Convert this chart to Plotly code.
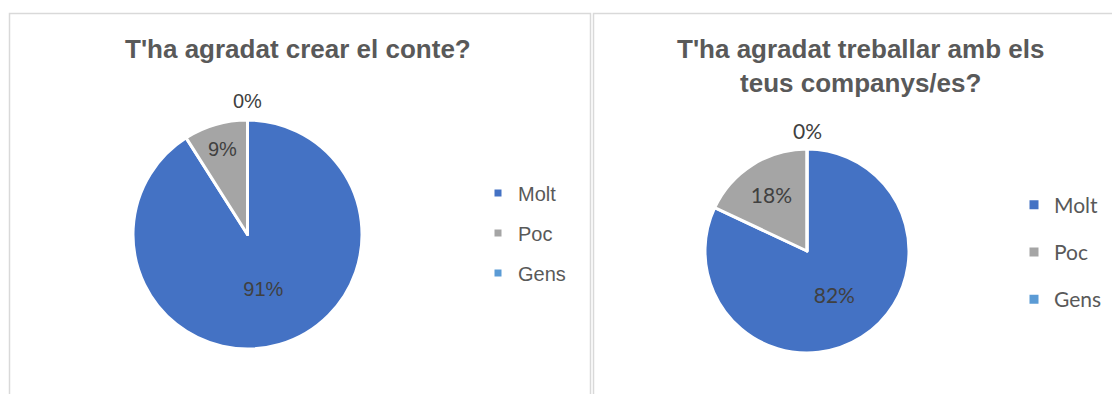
import math
import plotly.graph_objects as go

W, H = 1112, 394

categories = ["Molt", "Poc", "Gens"]
values_conte = [91, 9, 0]
values_companys = [82, 18, 0]
colors = ["#4472C4", "#A5A5A5", "#5B9BD5"]

title_conte = "T'ha agradat crear el conte?"
title_companys = "T'ha agradat treballar amb els<br>teus companys/es?"

ARIAL = "Arial, Liberation Sans, sans-serif"
CALIBRI = "Lato, Carlito, Calibri, sans-serif"


def px_x(p):
    return p / W


def px_y(p):
    return 1 - p / H


# pie boxes (pixel) : left, right, top, bottom
box_conte = (133, 362, 120, 349)
box_companys = (705, 909, 149, 353)

fig = go.Figure()
annotations = []


def add_pie(values, box, font):
    total = sum(values)
    texts = [f"{round(100 * v / total)}%" if v > 0 else "" for v in values]
    l, r, t, b = box
    fig.add_trace(go.Pie(
        labels=categories, values=values, sort=False, direction="clockwise", rotation=0,
        marker=dict(colors=colors, line=dict(color="white", width=3)),
        text=texts, textinfo="text", textposition="inside",
        insidetextorientation="horizontal",
        textfont=font,
        domain=dict(x=[px_x(l), px_x(r)], y=[px_y(b), px_y(t)]),
        showlegend=False, hoverinfo="label+percent",
    ))
    # zero-valued slices: label just outside the rim at the slice's angle
    cx, cy, rad = (l + r) / 2, (t + b) / 2, (r - l) / 2
    cum = 0
    for v in values:
        if v == 0:
            ang = math.radians(360 * cum / total)
            x = cx + (rad + 19) * math.sin(ang)
            y = cy - (rad + 19) * math.cos(ang)
            annotations.append(dict(
                text=f"{round(100 * v / total)}%", x=px_x(x), y=px_y(y),
                xref="paper", yref="paper", xanchor="center", yanchor="middle",
                showarrow=False, font=font))
        cum += v


add_pie(values_conte, box_conte, dict(family=ARIAL, size=20, color="#404040"))
add_pie(values_companys, box_companys, dict(family=CALIBRI, size=21, color="#404040"))

# legend entries (one group per category so the item spacing can be set)
for cat, col in zip(categories, colors):
    fig.add_trace(go.Scatter(
        x=[None], y=[None], mode="markers", name=cat, legendgroup="a_" + cat,
        marker=dict(symbol="square", size=7, color=col), legend="legend",
    ))
for cat, col in zip(categories, colors):
    fig.add_trace(go.Scatter(
        x=[None], y=[None], mode="markers", name=cat, legendgroup="b_" + cat,
        marker=dict(symbol="square", size=9, color=col), legend="legend2",
    ))

annotations += [
    dict(text="<b>" + title_conte + "</b>", x=px_x(297.5), y=px_y(49),
         xref="paper", yref="paper", xanchor="center", yanchor="middle",
         showarrow=False, font=dict(family=ARIAL, size=26, color="#595959")),
    dict(text="<b>" + title_companys + "</b>", x=px_x(860), y=px_y(66),
         xref="paper", yref="paper", xanchor="center", yanchor="middle",
         showarrow=False, font=dict(family=ARIAL, size=26, color="#595959")),
]

fig.update_layout(
    width=W, height=H,
    margin=dict(l=0, r=0, t=0, b=0),
    paper_bgcolor="white", plot_bgcolor="white",
    xaxis=dict(visible=False), yaxis=dict(visible=False),
    legend=dict(
        x=px_x(478), y=px_y(233), xanchor="left", yanchor="middle",
        font=dict(family=ARIAL, size=20, color="#595959"),
        tracegroupgap=11, bgcolor="rgba(0,0,0,0)", borderwidth=0,
        itemclick=False, itemdoubleclick=False,
    ),
    legend2=dict(
        x=px_x(1014), y=px_y(252), xanchor="left", yanchor="middle",
        font=dict(family=CALIBRI, size=21, color="#595959"),
        tracegroupgap=17, bgcolor="rgba(0,0,0,0)", borderwidth=0,
        itemclick=False, itemdoubleclick=False,
    ),
    annotations=annotations,
    shapes=[
        dict(type="rect", xref="paper", yref="paper",
             x0=px_x(9.5), x1=px_x(590.5), y0=px_y(13.5), y1=px_y(420),
             line=dict(color="#D9D9D9", width=1.5), fillcolor="rgba(0,0,0,0)", layer="below"),
        dict(type="rect", xref="paper", yref="paper",
             x0=px_x(593.5), x1=px_x(1140), y0=px_y(13.5), y1=px_y(420),
             line=dict(color="#D9D9D9", width=1.5), fillcolor="rgba(0,0,0,0)", layer="below"),
    ],
)

fig.write_html("out.html")
